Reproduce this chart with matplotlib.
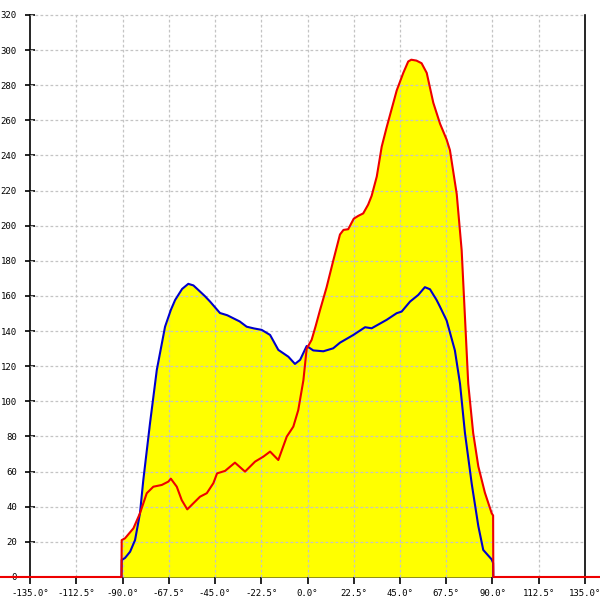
import matplotlib
matplotlib.use("Agg")
import matplotlib.pyplot as plt
import numpy as np

# ── Data (angle in degrees, intensity) ──────────────────────────────────
red_x = [-180, -90.5, -90.4, -88.8, -84.7, -81.5, -78.2, -75.0, -70.9, -67.7,
         -66.5, -63.6, -61.2, -58.5, -55.5, -52.3, -49.0, -45.8, -44.0, -40.1,
         -35.3, -30.4, -25.5, -21.5, -18.2, -14.2, -10.1, -6.9, -4.5, -2.0,
         -0.4, 2.0, 4.0, 6.1, 9.3, 12.5, 15.8, 17.5, 19.8, 22.5,
         24.7, 27.1, 29.5, 31.2, 33.7, 36.1, 38.5, 43.4, 46.6, 49.0,
         50.5, 53.0, 55.5, 58.0, 61.2, 64.5, 67.7, 69.3, 72.6, 75.0,
         76.6, 78.2, 80.6, 83.1, 86.3, 89.6, 90.3, 90.4, 180]
red_y = [0, 0, 21, 22, 27.7, 36.3, 47.7, 51.4, 52.4, 54.3,
         56, 51.4, 43.8, 38.5, 42, 45.7, 47.7, 53.4, 59, 60.4,
         65.1, 60, 65.7, 68.5, 71.4, 66.6, 79.9, 85.6, 95, 112,
         130, 135, 143, 152, 165, 180, 195, 197.6, 198, 204,
         205.6, 207, 212, 217, 228, 245, 256, 277, 287, 293.5,
         294.5, 294, 292.5, 287, 270, 258, 249, 243, 218, 186,
         148, 110, 82, 63, 48, 36.3, 35, 0, 0]

blue_x = [-90.5, -90.4, -88.8, -86.3, -83.9, -81.5, -79.9, -76.6, -73.3, -69.3,
          -66.5, -64.4, -61.0, -58.0, -55.5, -53.1, -50.0, -47.4, -42.6, -39.0,
          -36.1, -33.0, -29.6, -26.0, -22.3, -18.2, -14.2, -9.3, -6.1, -3.6,
          -0.4, 2.8, 7.7, 12.5, 15.8, 22.3, 28.0, 31.2, 38.5, 43.4,
          45.8, 49.9, 53.9, 57.1, 59.6, 62.8, 64.4, 67.7, 71.7, 74.2,
          76.6, 79.9, 83.1, 85.5, 89.6, 90.3, 90.4]
blue_y = [0, 9.7, 10.8, 14.4, 21, 36.3, 55, 87.7, 118, 142.5,
          152, 157.7, 164, 166.9, 166, 163.4, 160, 156.8, 150.3, 149,
          147.3, 145.5, 142.5, 141.5, 140.7, 137.8, 129.3, 125.4, 121.3, 123.6,
          131.5, 129, 128.5, 130.2, 133.4, 137.8, 142.2, 141.6, 146.4, 150.2,
          151.1, 156.8, 160.6, 165, 163.8, 157.7, 154, 146, 129, 110,
          82, 53, 29, 15.4, 10, 8, 0]

x_ticks = [-135.0, -112.5, -90.0, -67.5, -45.0, -22.5, 0.0, 22.5, 45.0, 67.5, 90.0, 112.5, 135.0]
y_ticks = list(range(0, 321, 20))

# ── Figure ───────────────────────────────────────────────────────────────
fig = plt.figure(figsize=(6, 6), dpi=100)
ax = fig.add_axes([0, 0, 1, 1])
ax.set_xlim(-149.6, 142.3)
ax.set_ylim(-13.1, 328.5)
ax.set_facecolor("white")

# yellow fills under both series
ax.fill_between(blue_x, blue_y, 0, color="#ffff00", lw=0, zorder=1)
ax.fill_between(red_x, red_y, 0, color="#ffff00", lw=0, zorder=1)

# dashed grid, limited to the plot frame, drawn over the fill
grid_kw = dict(color="#c4c4c4", lw=0.9, ls=(0, (2.2, 1.8)), zorder=2)
for v in y_ticks[1:]:
    ax.plot([-135, 135], [v, v], **grid_kw)
for v in x_ticks[1:-1]:
    ax.plot([v, v], [0, 320], **grid_kw)

ax.plot(blue_x, blue_y, color="#0000cc", lw=1.5, zorder=3)
ax.plot(red_x, red_y, color="#ee0000", lw=1.5, zorder=4)

# frame
ax.spines["top"].set_visible(False)
ax.spines["left"].set_position(("data", -135))
ax.spines["left"].set_bounds(0, 320)
ax.spines["right"].set_position(("data", 135))
ax.spines["right"].set_bounds(0, 320)
ax.spines["bottom"].set_position(("data", 0))
ax.spines["bottom"].set_bounds(-135, 135)
for s in ["left", "right", "bottom"]:
    ax.spines[s].set_linewidth(1.2)
    ax.spines[s].set_zorder(0)

ax.set_yticks(y_ticks)
ax.set_yticklabels([str(v) for v in y_ticks])
ax.set_xticks(x_ticks)
ax.set_xticklabels([f"{v:.1f}°" for v in x_ticks])
ax.tick_params(axis="y", direction="inout", length=7, width=1.2, pad=6,
               labelsize=6.5, right=False)
ax.tick_params(axis="x", direction="out", length=5, width=1.2, pad=4,
               labelsize=6.5, top=False)
for lab in ax.get_xticklabels() + ax.get_yticklabels():
    lab.set_family("DejaVu Sans Mono")

fig.savefig("out.png", dpi=100)
plt.close(fig)
